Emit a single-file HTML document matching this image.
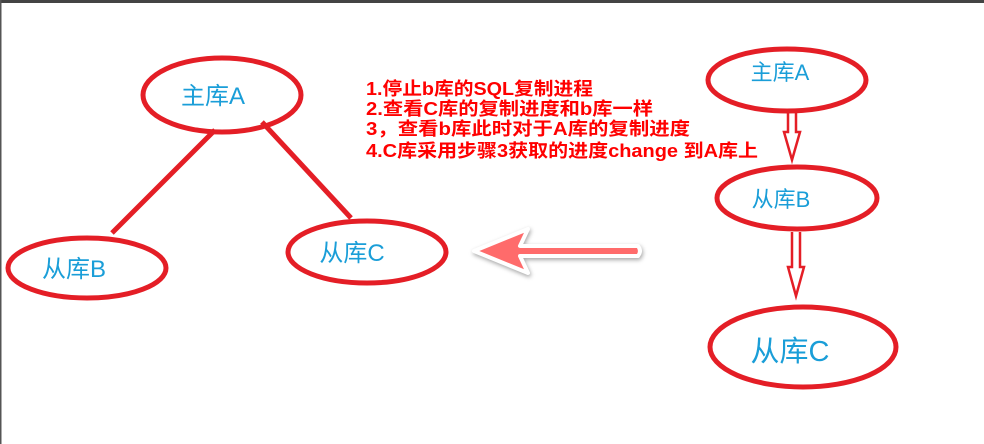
<!DOCTYPE html>
<html><head><meta charset="utf-8"><style>
body{margin:0;width:984px;height:444px;overflow:hidden;background:#fff}
svg{display:block}
.t{font-family:"Liberation Sans","Noto Sans CJK SC",sans-serif;fill:#1a9ed8}
.r{font-family:"Liberation Sans","Noto Sans CJK SC",sans-serif;fill:#f00;font-weight:bold;font-size:18px}
</style></head><body>
<svg width="984" height="444" viewBox="0 0 984 444">
<rect x="0" y="0" width="984" height="3" fill="#444"/>
<rect x="0" y="0" width="1.5" height="444" fill="#555"/>
<g fill="none" stroke="#e41e26" stroke-width="5">
<ellipse cx="222" cy="95" rx="79" ry="37"/>
<ellipse cx="87" cy="268" rx="79" ry="30"/>
<ellipse cx="367" cy="252" rx="79" ry="31"/>
<line x1="215" y1="130" x2="112" y2="233"/>
<line x1="262" y1="122" x2="351" y2="218"/>
<ellipse cx="787" cy="80" rx="79" ry="31"/>
<ellipse cx="797" cy="198" rx="80" ry="31"/>
<ellipse cx="803" cy="347" rx="93" ry="40"/>
</g>
<g fill="none" stroke="#e41e26" stroke-width="2.5">
<path d="M788 112 V132 H784 L792 160 L800 132 H796 V112"/>
<path d="M792 232 V267 H788 L796 296 L804 267 H800 V232"/>
</g>
<path d="M474 251 L528 229 L520 246 L638 246 Q642 251 638 256 L520 256 L528 273 Z" fill="#ff6b6b" stroke="#fff" stroke-width="4" stroke-linejoin="round" style="filter:drop-shadow(1px 2px 2px rgba(0,0,0,.35))"/>
<text class="t" x="213" y="104" font-size="24" text-anchor="middle">主库A</text>
<text class="t" x="74" y="277" font-size="24" text-anchor="middle">从库B</text>
<text class="t" x="352" y="261" font-size="24" text-anchor="middle">从库C</text>
<text class="t" x="780" y="80" font-size="22" text-anchor="middle">主库A</text>
<text class="t" x="781" y="207" font-size="22" text-anchor="middle">从库B</text>
<text class="t" x="790" y="361" font-size="29" text-anchor="middle">从库C</text>
<text class="r" x="366" y="95" textLength="227" lengthAdjust="spacingAndGlyphs">1.停止b库的SQL复制进程</text>
<text class="r" x="366" y="115" textLength="287" lengthAdjust="spacingAndGlyphs">2.查看C库的复制进度和b库一样</text>
<text class="r" x="366" y="135" textLength="324" lengthAdjust="spacingAndGlyphs">3，查看b库此时对于A库的复制进度</text>
<text class="r" x="366" y="157" textLength="392" lengthAdjust="spacingAndGlyphs">4.C库采用步骤3获取的进度change 到A库上</text>
</svg>
</body></html>
